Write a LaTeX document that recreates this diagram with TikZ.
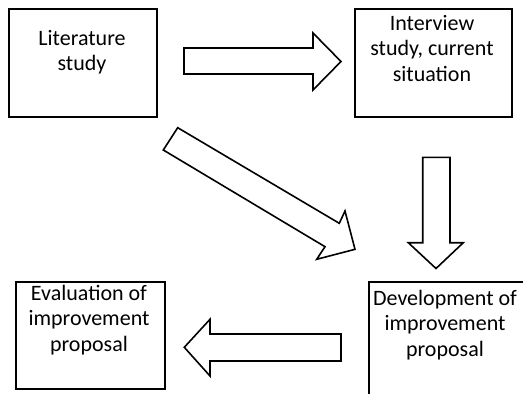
\documentclass[tikz,border=0pt]{standalone}
\usepackage{fontspec}
\setmainfont{Carlito}
\begin{document}
\begin{tikzpicture}[x=1pt,y=-1pt,
  box/.style={draw, line width=2pt, rectangle, inner sep=0pt, anchor=north west},
  lbl/.style={font=\fontsize{22}{25.5}\selectfont, align=center, anchor=north, inner sep=0pt},
  blk/.style={draw, line width=1.6pt, fill=white, line join=miter, miter limit=10}]
\useasboundingbox (0,0) rectangle (523,394);
\clip (0,0) rectangle (523,394);
% boxes
\node[box, minimum width=148pt, minimum height=108pt] (lit) at (8,8) {};
\node[box, minimum width=157pt, minimum height=108pt] (int) at (354,8) {};
\node[box, minimum width=170pt, minimum height=130pt] (dev) at (368,280.5) {};
\node[box, minimum width=149.5pt, minimum height=107pt] (eva) at (14.5,280.5) {};
% labels
\node[lbl] (litT) at (82,29) {\rule{0pt}{16pt}Literature\\study};
\node[lbl] (intT) at (432,14) {\rule{0pt}{16pt}Interview\\study, current\\situation};
\node[lbl] (devT) at (445,289) {\rule{0pt}{16pt}Development of\\improvement\\proposal};
\node[lbl] (evaT) at (89,284) {\rule{0pt}{16pt}Evaluation of\\improvement\\proposal};
% block arrows
\draw[blk] (184,48) -- (313,48) -- (313,33) -- (341,61.5) -- (313,90) -- (313,74) -- (184,74) -- cycle;
\draw[blk] (422.7,157.3) -- (450,157.3) -- (450,242.7) -- (463.3,242.7) -- (436,268.5) -- (408.3,242.7) -- (422.7,242.7) -- cycle;
\draw[blk] (341,334) -- (210,334) -- (210,319.3) -- (184.3,347.3) -- (210,376) -- (210,361) -- (341,361) -- cycle;
\draw[blk] (177.7,127.7) -- (339.3,223.3) -- (345,211) -- (355,249.3) -- (316.7,259.3) -- (325,246.7) -- (163.3,150) -- cycle;
\end{tikzpicture}
\end{document}
